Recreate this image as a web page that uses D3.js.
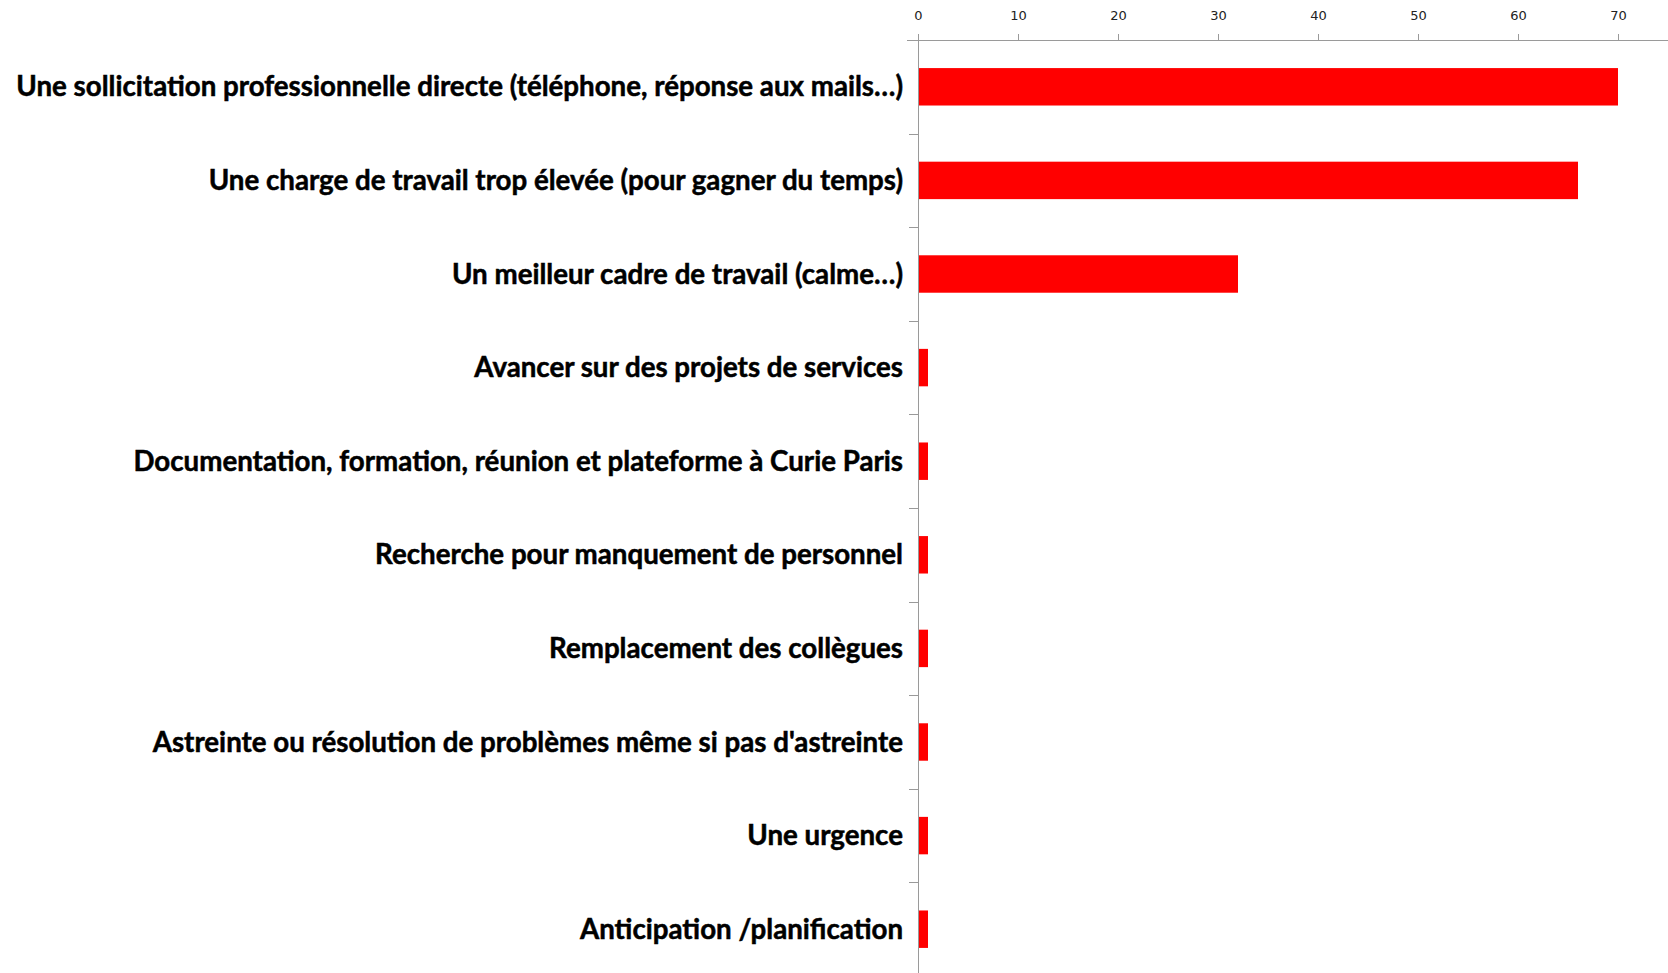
<!DOCTYPE html>
<html>
<head>
<meta charset="utf-8">
<script src="https://cdn.jsdelivr.net/npm/d3@7"></script>
<style>
  html, body { margin: 0; padding: 0; background: #fff; }
  svg { display: block; }
</style>
</head>
<body>
<div id="chart"></div>
<script>
// categories, top to bottom
var categories = [
  "Une sollicitation professionnelle directe (téléphone, réponse aux mails…)",
  "Une charge de travail trop élevée (pour gagner du temps)",
  "Un meilleur cadre de travail (calme…)",
  "Avancer sur des projets de services",
  "Documentation, formation, réunion et plateforme à Curie Paris",
  "Recherche pour manquement de personnel",
  "Remplacement des collègues",
  "Astreinte ou résolution de problèmes même si pas d'astreinte",
  "Une urgence",
  "Anticipation /planification"
];
var values = [70, 66, 32, 1, 1, 1, 1, 1, 1, 1];
var tickValues = [0, 10, 20, 30, 40, 50, 60, 70];

var width = 1668, height = 973;
var axisY = 40;

var svg = d3.select("#chart")
  .append("svg")
  .attr("width", width)
  .attr("height", height);

// x : 0 -> 918px, 70 -> 1618px, axis runs to the right edge
var x = d3.scaleLinear()
  .domain([0, 75])
  .range([918, 1668]);

var y = d3.scaleBand()
  .domain(categories)
  .range([axisY, axisY + 936])
  .paddingInner(0.6)
  .paddingOuter(0.3);

// top axis
var xAxis = d3.axisTop(x)
  .tickValues(tickValues)
  .tickSize(6)
  .tickPadding(14);

var gx = svg.append("g")
  .attr("transform", "translate(0," + axisY + ")")
  .call(xAxis);
gx.select(".domain").remove();
gx.selectAll(".tick line").attr("stroke", "#9a9a9a");
gx.selectAll(".tick text")
  .attr("fill", "#222")
  .style("font-family", "'DejaVu Sans', Verdana, sans-serif")
  .style("font-size", "13px");

svg.append("line")
  .attr("x1", 907).attr("x2", width)
  .attr("y1", axisY + 0.5).attr("y2", axisY + 0.5)
  .attr("stroke", "#9a9a9a");

// vertical axis with category separators
svg.append("line")
  .attr("x1", x(0) + 0.5).attr("x2", x(0) + 0.5)
  .attr("y1", axisY).attr("y2", height)
  .attr("stroke", "#9a9a9a");

var step = y.step();
svg.selectAll(".sep")
  .data(d3.range(1, categories.length + 1))
  .enter().append("line")
  .attr("x1", x(0) - 9).attr("x2", x(0))
  .attr("y1", function(i) { return Math.round(axisY + i * step) + 0.5; })
  .attr("y2", function(i) { return Math.round(axisY + i * step) + 0.5; })
  .attr("stroke", "#9a9a9a");

// bars
svg.selectAll(".bar")
  .data(values)
  .enter().append("rect")
  .attr("class", "bar")
  .attr("x", x(0) + 1)
  .attr("y", function(d, i) { return y(categories[i]); })
  .attr("width", function(d) { return x(d) - x(0) - 1; })
  .attr("height", y.bandwidth())
  .attr("fill", "#ff0000");

// labels (slight stroke to get closer to the heavy original font)
var labels = svg.selectAll(".label")
  .data(categories)
  .enter().append("text")
  .attr("class", "label")
  .attr("x", x(0) - 15)
  .attr("y", function(d) { return y(d) + y.bandwidth() / 2; })
  .attr("dy", "0.35em")
  .attr("text-anchor", "end")
  .attr("fill", "#000")
  .attr("stroke", "#000")
  .attr("stroke-width", 0.5)
  .style("font-family", "Lato, 'Open Sans', sans-serif")
  .style("font-weight", "bold")
  .style("font-size", "26px")
  .text(function(d) { return d; });

// fit font size so the longest label spans ~887px like the original
var w0 = labels.nodes()[0].getComputedTextLength();
var fs = 26 * 887 / w0;
labels.style("font-size", fs + "px");
</script>
</body>
</html>
